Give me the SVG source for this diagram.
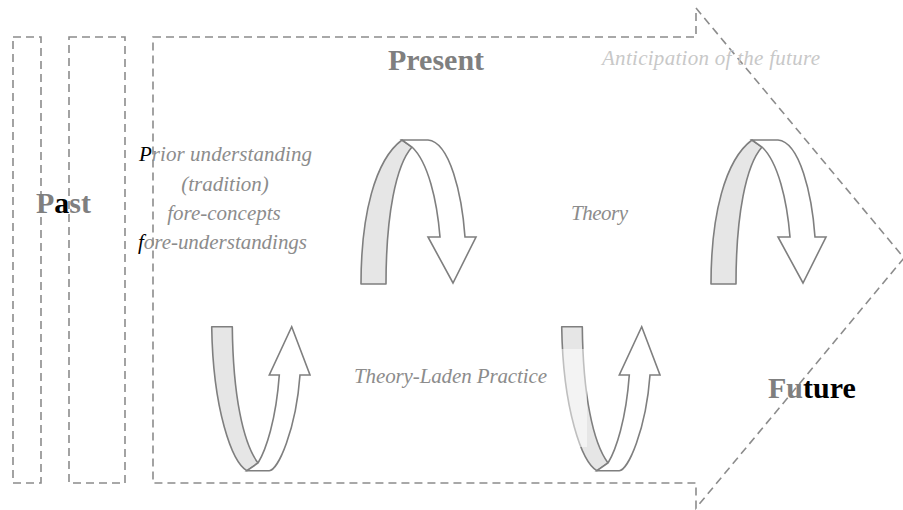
<svg xmlns="http://www.w3.org/2000/svg" width="903" height="510" viewBox="0 0 903 510">
  <style>
    .frame { fill: none; stroke: #8c8c8c; stroke-width: 1.6; stroke-dasharray: 8 5; }
    .band { fill: #e6e6e6; stroke: #7f7f7f; stroke-width: 1.6; stroke-linejoin: round; }
    .face { fill: #ffffff; stroke: #7f7f7f; stroke-width: 1.6; stroke-linejoin: miter; }
    .title { font-family: "Liberation Serif", "DejaVu Serif", serif; font-weight: bold; font-size: 30px; fill: #7f7f7f; }
    .note { font-family: "Liberation Serif", "DejaVu Serif", serif; font-style: italic; font-size: 21px; fill: #8c8c8c; }
    .ink { fill: #000000; }
  </style>
  <defs>
    <!-- loop that turns over the top and points down -->
    <g id="loop-down">
      <path class="band" d="M361,284 C361,215 375,160 402,140 L412,147 C396,165 386,215 386,284 Z"/>
      <path class="face" d="M402,140 L428,140 C450,142 462,195 465,237 L476,237 L453,283 L428,237 L440,237 C437,200 428,162 412,147 Z"/>
    </g>
    <!-- loop that turns under the bottom and points up -->
    <g id="loop-up">
      <path class="band" d="M211.7,326.7 L232.3,326.7 C233,395 243,443 258,463 L247,470.7 C232,462 213,410 211.7,326.7 Z"/>
      <path class="face" d="M247,470.7 L269.3,470.7 C278,470 296,430 300,375 L310,375 L291.7,326.7 L269.3,375 L279.3,375 C276,420 266,450 258,463 Z"/>
    </g>
  </defs>

  <!-- time frames -->
  <g id="past-frames">
    <rect class="frame" x="13" y="37" width="28" height="446"/>
    <rect class="frame" x="69" y="37" width="56" height="446"/>
  </g>
  <g id="present-arrow">
    <path class="frame" d="M153,37 L696,37 L696,8 L904,258 L696,508 L696,483 L153,483 Z"/>
  </g>

  <!-- cycles -->
  <g id="cycle-1"><use href="#loop-down"/></g>
  <g id="cycle-2"><use href="#loop-down" transform="translate(350,0)"/></g>
  <g id="cycle-3"><use href="#loop-up"/></g>
  <g id="cycle-4">
    <use href="#loop-up" transform="translate(350,0)"/>
    <rect x="560" y="349" width="27" height="98" fill="#ffffff" fill-opacity="0.5"/>
  </g>

  <!-- labels -->
  <g id="label-present"><text class="title" x="388" y="70">Present</text></g>
  <g id="label-past"><text class="title" x="36" y="213">P<tspan class="ink">a</tspan>st</text></g>
  <g id="label-future"><text class="title" x="768" y="398">Fu<tspan class="ink">ture</tspan></text></g>
  <g id="label-anticipation"><text class="note" x="602" y="65" textLength="218" fill="#c8c8c8" style="fill:#c8c8c8">Anticipation of the future</text></g>
  <g id="label-prior">
    <text class="note" x="139" y="161" textLength="173"><tspan class="ink">P</tspan>rior understanding</text>
    <text class="note" x="225" y="191" text-anchor="middle">(tradition)</text>
    <text class="note" x="224" y="220" text-anchor="middle">fore-concepts</text>
    <text class="note" x="138" y="249" textLength="169"><tspan class="ink">f</tspan>ore-understandings</text>
  </g>
  <g id="label-theory"><text class="note" x="571" y="220" textLength="57">Theory</text></g>
  <g id="label-practice"><text class="note" x="354" y="383" textLength="193">Theory-Laden Practice</text></g>
</svg>
